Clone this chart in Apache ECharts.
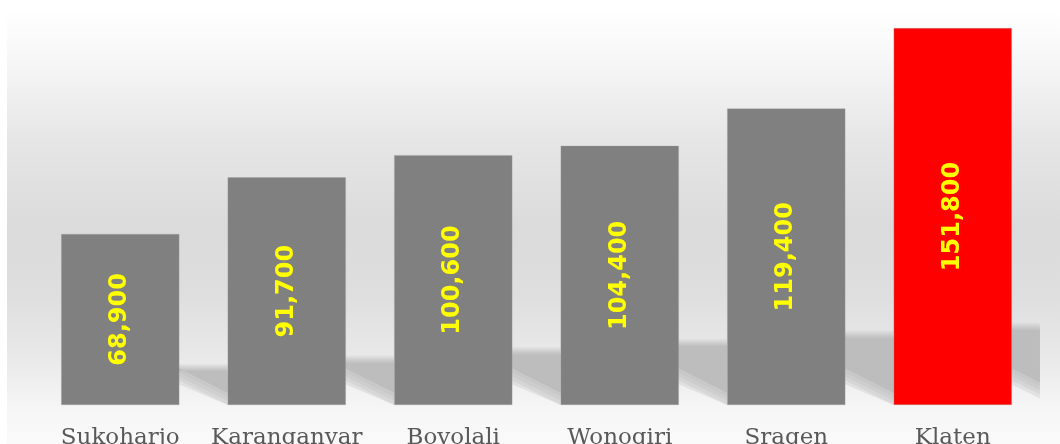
<!DOCTYPE html>
<html>
<head>
<meta charset="utf-8">
<script src="https://cdn.jsdelivr.net/npm/echarts@6/dist/echarts.min.js"></script>
<style>
  html, body { margin: 0; padding: 0; background: #fff; }
  #chart { width: 1060px; height: 444px; }
</style>
</head>
<body>
<div id="chart"></div>
<script>
var categories = ["Sukoharjo", "Karanganyar", "Boyolali", "Wonogiri", "Sragen", "Klaten"];
var values = [68900, 91700, 100600, 104400, 119400, 151800];
var barColors = ["#808080", "#808080", "#808080", "#808080", "#808080", "#ff0000"];

var myChart = echarts.init(document.getElementById("chart"));

// floor shadow gets taller to the right (perspective look)
function shadowHeight(x) {
  return 40 + 0.05 * (x - 204);
}

function renderShadow(params, api) {
  var base = api.coord([api.value(0), 0]);
  var band = api.size([1, 0])[0];
  var barW = band * 0.71;
  var x1 = base[0] + barW / 2 - 1;
  var g = params.dataIndex === values.length - 1 ? 28 : band - barW;
  var x2 = x1 + g + 1;
  var y = base[1];
  var top = y - shadowHeight(x1 + g / 2);
  var s = 0.5;

  function edge(x, d) {
    return Math.min(y, y - 28 + s * (x - x1) + d);
  }

  // soft diagonal edge built from a few stacked layers
  var children = [];
  var steps = [-9, -5, -1, 3, 7];
  steps.forEach(function (d, k) {
    children.push({
      type: "polygon",
      shape: {
        points: [
          [x1, top + 6],
          [x2, top + 6],
          [x2, edge(x2, d)],
          [x1, edge(x1, d)]
        ]
      },
      style: { fill: k === 0 ? "rgb(190,190,190)" : "rgba(190,190,190,0.3)" }
    });
  });
  children.push({
    type: "rect",
    shape: { x: x1, y: top - 2, width: x2 - x1, height: 8 },
    style: {
      fill: new echarts.graphic.LinearGradient(0, 0, 0, 1, [
        { offset: 0, color: "rgba(190,190,190,0)" },
        { offset: 1, color: "rgba(190,190,190,1)" }
      ])
    }
  });
  return { type: "group", children: children };
}

var option = {
  animation: false,
  graphic: [
    {
      type: "rect",
      z: -10,
      shape: { x: 7, y: 10, width: 1053, height: 434 },
      style: {
        fill: new echarts.graphic.LinearGradient(0, 0, 0, 1, [
          { offset: 0, color: "#ffffff" },
          { offset: 0.1, color: "#f8f8f8" },
          { offset: 0.3, color: "#e6e6e6" },
          { offset: 0.5, color: "#dbdbdb" },
          { offset: 0.65, color: "#dedede" },
          { offset: 0.8, color: "#e9e9e9" },
          { offset: 0.92, color: "#f6f6f6" },
          { offset: 1, color: "#fafafa" }
        ])
      }
    }
  ],
  grid: { left: 37, right: 24, top: 28, bottom: 39, outerBoundsMode: "none", containLabel: false },
  xAxis: {
    type: "category",
    data: categories,
    axisLine: { show: false },
    axisTick: { show: false },
    axisLabel: {
      interval: 0,
      margin: 22,
      color: "#595959",
      fontSize: 23,
      fontFamily: "DejaVu Serif"
    }
  },
  yAxis: {
    type: "value",
    min: 0,
    max: 151800,
    show: false,
    splitLine: { show: false }
  },
  series: [
    {
      type: "custom",
      z: 1,
      silent: true,
      clip: false,
      data: values.map(function (v, i) { return [i, v]; }),
      encode: { x: 0, y: 1 },
      renderItem: renderShadow
    },
    {
      type: "bar",
      z: 2,
      barCategoryGap: "29%",
      data: values.map(function (v, i) {
        return { value: v, itemStyle: { color: barColors[i] } };
      }),
      itemStyle: {
        borderColor: "rgba(160,160,160,0.6)",
        borderWidth: 0.5
      },
      label: {
        show: true,
        position: "inside",
        rotate: 90,
        color: "#ffff00",
        fontSize: 24,
        fontWeight: "bold",
        fontFamily: "DejaVu Sans",
        formatter: function (p) {
          return p.value.toLocaleString("en-US");
        }
      }
    }
  ]
};

myChart.setOption(option);
</script>
</body>
</html>
